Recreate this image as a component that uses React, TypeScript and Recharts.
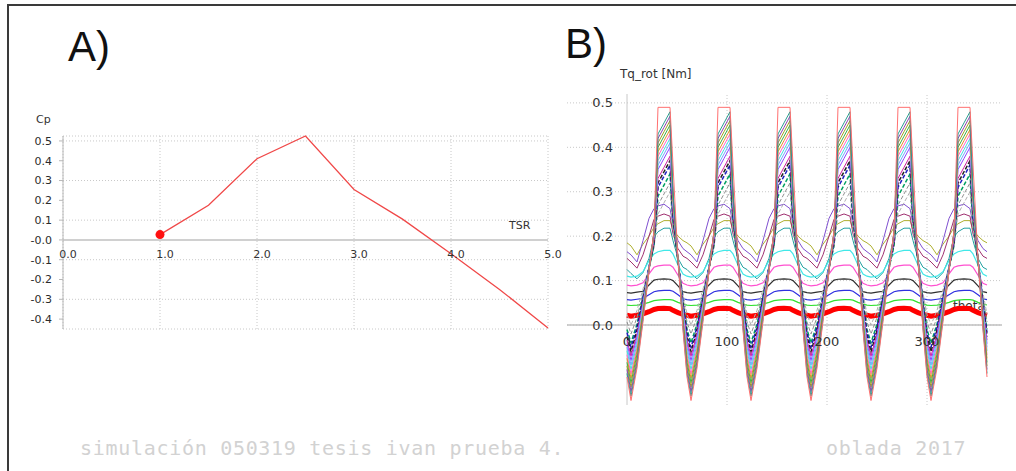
import { LineChart, Line, XAxis, YAxis, CartesianGrid, ReferenceLine, ReferenceDot } from "recharts";

// ---- panel A: Cp vs TSR ----
const tsrValues = [1.0, 1.5, 2.0, 2.5, 3.0, 3.5, 4.0, 4.5, 5.0];
const cpValues = [0.027, 0.175, 0.41, 0.525, 0.255, 0.105, -0.07, -0.25, -0.445];
const tsrTicks = [0, 1, 2, 3, 4, 5];
const tsrTickLabels = ["0.0", "1.0", "2.0", "3.0", "4.0", "5.0"];
const cpTicks = [-0.4, -0.3, -0.2, -0.1, 0, 0.1, 0.2, 0.3, 0.4, 0.5];
const cpTickLabels = ["-0.4", "-0.3", "-0.2", "-0.1", "-0.0", "0.1", "0.2", "0.3", "0.4", "0.5"];

// ---- panel B: Tq_rot vs theta, one blade period ----
const thetaOffsets = [0, 4, 10, 16, 22, 27, 31, 37, 43, 46, 51, 56];
const bladePitch = 60;
const bladeTurns = 6;
const thetaGrid = [100, 200, 300];
const thetaLabelAt = [0, 100, 200, 300];
const thetaTickLabels = ["0", "100", "200", "300"];
const torqueTicks = [0, 0.1, 0.2, 0.3, 0.4, 0.5];
const torqueTickLabels = ["0.0", "0.1", "0.2", "0.3", "0.4", "0.5"];

// spiky curves, biggest first
const tq49 = [-0.117, -0.17, -0.097, 0.008, 0.12, 0.213, 0.49, 0.49, 0.49, 0.36, 0.147, -0.012];
const tq48 = [-0.109, -0.16, -0.09, 0.013, 0.122, 0.211, 0.43, 0.455, 0.48, 0.301, 0.147, -0.006];
const tq47 = [-0.1, -0.15, -0.082, 0.017, 0.123, 0.21, 0.42, 0.445, 0.47, 0.296, 0.148, -0.001];
const tq46 = [-0.092, -0.14, -0.074, 0.022, 0.124, 0.208, 0.41, 0.435, 0.46, 0.292, 0.148, 0.004];
const tq45 = [-0.084, -0.13, -0.066, 0.027, 0.125, 0.206, 0.4, 0.425, 0.45, 0.288, 0.148, 0.009];
const tq44 = [-0.075, -0.12, -0.058, 0.031, 0.126, 0.205, 0.39, 0.415, 0.44, 0.283, 0.149, 0.014];
const tq43 = [-0.067, -0.11, -0.051, 0.036, 0.128, 0.203, 0.38, 0.405, 0.43, 0.279, 0.149, 0.02];
const tq42 = [-0.058, -0.1, -0.043, 0.04, 0.129, 0.202, 0.37, 0.395, 0.42, 0.274, 0.15, 0.025];
const tq41 = [-0.05, -0.09, -0.035, 0.045, 0.13, 0.2, 0.36, 0.385, 0.41, 0.27, 0.15, 0.03];
const tq40 = [-0.042, -0.08, -0.027, 0.05, 0.131, 0.198, 0.35, 0.375, 0.4, 0.266, 0.15, 0.035];
const tq38 = [-0.034, -0.07, -0.02, 0.052, 0.128, 0.191, 0.33, 0.355, 0.38, 0.254, 0.146, 0.038];
const tq37 = [-0.026, -0.06, -0.013, 0.056, 0.129, 0.189, 0.32, 0.345, 0.37, 0.25, 0.146, 0.043];
const tq36 = [-0.017, -0.05, -0.005, 0.061, 0.13, 0.188, 0.31, 0.335, 0.36, 0.245, 0.147, 0.048];
const tq34 = [-0.01, -0.04, 0.002, 0.063, 0.127, 0.18, 0.29, 0.315, 0.34, 0.234, 0.142, 0.051];
const tq32 = [0.007, -0.02, 0.017, 0.072, 0.13, 0.177, 0.27, 0.295, 0.32, 0.225, 0.143, 0.062];
const tq30 = [0.024, 0.0, 0.033, 0.081, 0.132, 0.174, 0.25, 0.275, 0.3, 0.216, 0.144, 0.072];

// flatter curves
const tqOlive = [0.185, 0.178, 0.158, 0.182, 0.2, 0.22, 0.228, 0.235, 0.235, 0.215, 0.2, 0.19];
const tqPurple = [0.165, 0.158, 0.142, 0.19, 0.24, 0.262, 0.268, 0.272, 0.262, 0.225, 0.19, 0.172];
const tqMaroon = [0.15, 0.142, 0.128, 0.158, 0.2, 0.238, 0.245, 0.25, 0.245, 0.205, 0.172, 0.155];
const tqTeal = [0.125, 0.116, 0.104, 0.118, 0.15, 0.198, 0.21, 0.218, 0.218, 0.19, 0.15, 0.13];
const tqCyan = [0.11, 0.108, 0.11, 0.12, 0.145, 0.16, 0.165, 0.168, 0.168, 0.16, 0.135, 0.115];
const tqPink = [0.09, 0.088, 0.09, 0.095, 0.115, 0.13, 0.133, 0.135, 0.135, 0.13, 0.112, 0.094];
const tqBlack = [0.073, 0.072, 0.074, 0.076, 0.09, 0.101, 0.103, 0.104, 0.103, 0.1, 0.088, 0.075];
const tqBlue = [0.057, 0.056, 0.058, 0.06, 0.068, 0.075, 0.077, 0.078, 0.078, 0.076, 0.068, 0.059];
const tqGreen = [0.045, 0.044, 0.045, 0.047, 0.051, 0.055, 0.056, 0.057, 0.057, 0.056, 0.051, 0.047];
const tqRed = [0.022, 0.02, 0.022, 0.025, 0.03, 0.035, 0.037, 0.038, 0.037, 0.033, 0.028, 0.024];

// drawing order: flat ones underneath, spikes on top
const curves = [
  { key: "olive", values: tqOlive, color: "#b0b030", width: 1 },
  { key: "purple", values: tqPurple, color: "#8050d0", width: 1 },
  { key: "maroon", values: tqMaroon, color: "#a03070", width: 1 },
  { key: "teal", values: tqTeal, color: "#20a0a0", width: 1 },
  { key: "cyan", values: tqCyan, color: "#40e8e8", width: 1.2 },
  { key: "pink", values: tqPink, color: "#ff50d0", width: 1.2 },
  { key: "black", values: tqBlack, color: "#303030", width: 1.2 },
  { key: "blue", values: tqBlue, color: "#3030e0", width: 1.2 },
  { key: "green", values: tqGreen, color: "#30e030", width: 1.2 },
  { key: "red", values: tqRed, color: "#ff0000", width: 5 },
  { key: "s30", values: tq30, color: "#b0b0b0", width: 1, dash: "4 2" },
  { key: "s32", values: tq32, color: "#909090", width: 1, dash: "4 2" },
  { key: "s34", values: tq34, color: "#00a060", width: 1.5, dash: "4 2" },
  { key: "s36", values: tq36, color: "#2020c0", width: 1.5, dash: "4 2" },
  { key: "s37", values: tq37, color: "#202020", width: 1.5, dash: "4 2" },
  { key: "s38", values: tq38, color: "#d020a0", width: 1 },
  { key: "s40", values: tq40, color: "#9040ff", width: 1 },
  { key: "s41", values: tq41, color: "#6fa8ff", width: 1 },
  { key: "s42", values: tq42, color: "#40e0e0", width: 1 },
  { key: "s43", values: tq43, color: "#ff66cc", width: 1 },
  { key: "s44", values: tq44, color: "#e8902a", width: 1 },
  { key: "s45", values: tq45, color: "#3cb043", width: 1 },
  { key: "s46", values: tq46, color: "#a0a020", width: 1 },
  { key: "s47", values: tq47, color: "#8e44ad", width: 1 },
  { key: "s48", values: tq48, color: "#2a9d8f", width: 1 },
  { key: "s49", values: tq49, color: "#ff7070", width: 1 },
];

const cpData = tsrValues.map((t, i) => ({ tsr: t, cp: cpValues[i] }));

const torqueData: any[] = [];
for (let b = 0; b < bladeTurns; b++) {
  thetaOffsets.forEach((off, i) => {
    const row: any = { theta: b * bladePitch + off };
    curves.forEach((c) => (row[c.key] = c.values[i]));
    torqueData.push(row);
  });
}
const lastRow: any = { theta: bladeTurns * bladePitch };
curves.forEach((c) => (lastRow[c.key] = c.values[0]));
torqueData.push(lastRow);

const tickText = (value: string, dx: number, dy: number, size: number, anchor = "middle") => (props: any) => {
  const vb = props.viewBox || { x: 0, y: 0 };
  return (
    <text x={vb.x + dx} y={vb.y + dy} textAnchor={anchor} fontSize={size} fill="#333">
      {value}
    </text>
  );
};

const startDot = (p: any) =>
  p.index === 0 ? <circle key="start" cx={p.cx} cy={p.cy} r={4.5} fill="#ff1010" /> : <g key={p.index} />;

const grid = "#c8c8c8";

export default function App() {
  return (
    <div style={{ position: "absolute", left: 0, top: 0, width: 1016, height: 471, background: "#fff", fontFamily: "DejaVu Sans", overflow: "hidden" }}>
      <div style={{ position: "absolute", left: 7, top: 4, width: 1020, height: 480, borderLeft: "2px solid #3a3a3a", borderTop: "2px solid #3a3a3a" }} />

      <div style={{ position: "absolute", left: 68, top: 26, fontFamily: "Liberation Sans", fontSize: 42, lineHeight: "42px", color: "#111" }}>A)</div>
      <div style={{ position: "absolute", left: 565, top: 23, fontFamily: "Liberation Sans", fontSize: 42, lineHeight: "42px", color: "#111" }}>B)</div>

      <div style={{ position: "absolute", left: 36, top: 113, fontSize: 11, color: "#333" }}>Cp</div>
      <div style={{ position: "absolute", left: 509, top: 219, fontSize: 11, color: "#333" }}>TSR</div>
      <div style={{ position: "absolute", left: 620, top: 67, fontSize: 12, color: "#333" }}>Tq_rot [Nm]</div>
      <div style={{ position: "absolute", left: 953, top: 299, fontSize: 12, color: "#333" }}>theta</div>

      <div style={{ position: "absolute", left: 0, top: 0 }}>
        <LineChart width={600} height={360} data={cpData} margin={{ top: 136, right: 52, bottom: 31, left: 23 }}>
          <CartesianGrid stroke={grid} strokeDasharray="1 2" />
          <XAxis dataKey="tsr" type="number" domain={[0, 5]} ticks={tsrTicks} hide />
          <YAxis
            type="number"
            domain={[-0.45, 0.525]}
            ticks={cpTicks}
            tickFormatter={(v: number) => cpTickLabels[cpTicks.indexOf(v)]}
            width={40}
            stroke="#b8b8b8"
            tickSize={4}
            tickMargin={7}
            tick={{ fontSize: 11, fill: "#2b2b2b" }}
          />
          <ReferenceLine y={0} stroke="#c0c0c0" strokeWidth={1.5} />
          {tsrTicks.map((t, i) => (
            <ReferenceDot key={t} x={t} y={0} r={0} stroke="none" label={tickText(tsrTickLabels[i], 5, 18, 11)} />
          ))}
          <Line dataKey="cp" type="linear" stroke="#f04848" strokeWidth={1.3} dot={startDot} activeDot={false} isAnimationActive={false} />
        </LineChart>
      </div>

      <div style={{ position: "absolute", left: 567, top: 94 }}>
        <LineChart width={435} height={311} data={torqueData} margin={{ top: 0, right: 0, bottom: 0, left: 0 }}>
          <XAxis dataKey="theta" type="number" domain={[-60, 375]} hide />
          <YAxis type="number" domain={[-0.18, 0.52]} hide />
          {torqueTicks.map((v) => (
            <ReferenceLine key={"h" + v} y={v} stroke={grid} strokeDasharray="1 2" />
          ))}
          {thetaGrid.map((t) => (
            <ReferenceLine key={"v" + t} x={t} stroke={grid} strokeDasharray="1 2" />
          ))}
          <ReferenceLine y={0} stroke="#c0c0c0" strokeWidth={1.5} />
          <ReferenceLine x={0} stroke="#c8c8c8" />
          {torqueTicks.map((v, i) => (
            <ReferenceDot key={"y" + v} x={0} y={v} r={0} stroke="none" label={tickText(torqueTickLabels[i], -14, 4.5, 13, "end")} />
          ))}
          {thetaLabelAt.map((t, i) => (
            <ReferenceDot key={"x" + t} x={t} y={0} r={0} stroke="none" label={tickText(thetaTickLabels[i], 0, 21, 13)} />
          ))}
          {curves.map((c) => (
            <Line
              key={c.key}
              dataKey={c.key}
              type="linear"
              stroke={c.color}
              strokeWidth={c.width}
              strokeDasharray={c.dash}
              dot={false}
              activeDot={false}
              isAnimationActive={false}
            />
          ))}
        </LineChart>
      </div>

      <div style={{ position: "absolute", left: 80, top: 438, fontFamily: "DejaVu Sans Mono", fontSize: 20, lineHeight: "20px", letterSpacing: 0.7, color: "#d2d2d2", whiteSpace: "nowrap" }}>
        simulación 050319 tesis ivan prueba 4.
      </div>
      <div style={{ position: "absolute", left: 826, top: 438, fontFamily: "DejaVu Sans Mono", fontSize: 20, lineHeight: "20px", letterSpacing: 0.7, color: "#d2d2d2", whiteSpace: "nowrap" }}>
        oblada 2017
      </div>
    </div>
  );
}
